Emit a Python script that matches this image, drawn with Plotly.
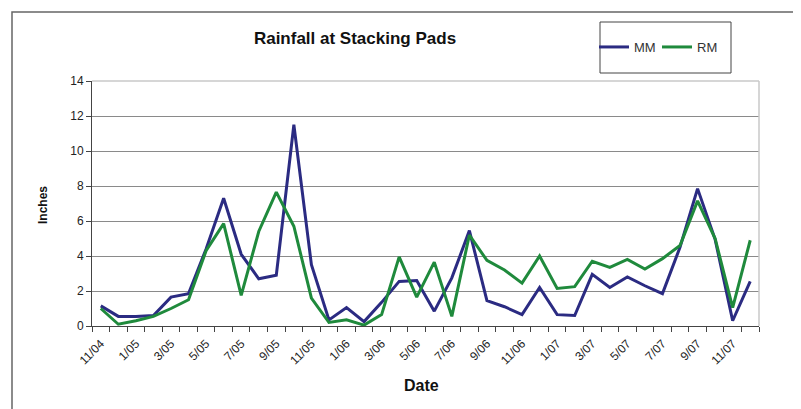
import plotly.graph_objects as go

months = ["11/04", "12/04",
          "1/05", "2/05", "3/05", "4/05", "5/05", "6/05", "7/05", "8/05", "9/05", "10/05", "11/05", "12/05",
          "1/06", "2/06", "3/06", "4/06", "5/06", "6/06", "7/06", "8/06", "9/06", "10/06", "11/06", "12/06",
          "1/07", "2/07", "3/07", "4/07", "5/07", "6/07", "7/07", "8/07", "9/07", "10/07", "11/07", "12/07"]

mm = [1.15, 0.55, 0.55, 0.6, 1.65, 1.85, 4.4, 7.3, 4.1, 2.7, 2.9, 11.5, 3.5, 0.35,
      1.05, 0.25, 1.35, 2.55, 2.6, 0.85, 2.75, 5.45, 1.45, 1.1, 0.65, 2.2,
      0.65, 0.6, 2.95, 2.2, 2.8, 2.3, 1.85, 4.5, 7.85, 4.95, 0.3, 2.55]

rm = [1.0, 0.1, 0.3, 0.55, 1.0, 1.5, 4.3, 5.85, 1.75, 5.4, 7.65, 5.7, 1.6, 0.2,
      0.35, 0.05, 0.65, 3.95, 1.65, 3.65, 0.55, 5.2, 3.75, 3.2, 2.45, 4.0,
      2.15, 2.25, 3.7, 3.35, 3.8, 3.25, 3.85, 4.6, 7.15, 5.0, 1.05, 4.9]

tick_labels = months[::2]
y_ticks = [0, 2, 4, 6, 8, 10, 12, 14]

idx = list(range(len(months)))

fig = go.Figure()
fig.add_trace(go.Scatter(x=idx, y=mm, mode="lines", name="MM",
                         line=dict(color="#2b2b82", width=3)))
fig.add_trace(go.Scatter(x=idx, y=rm, mode="lines", name="RM",
                         line=dict(color="#1f8a3c", width=3)))

OFF = 8  # page body margin offset
W, H = 801 - OFF, 409 - OFF
L, R, T, B = 92, 759, 81, 326
pw, ph = R - L, B - T

def px_x(p):
    return (p - L) / pw

def px_y(p):
    return (B - p) / ph

font_family = "Liberation Sans, Arial, sans-serif"

fig.update_layout(
    width=W, height=H,
    margin=dict(l=L - OFF, r=801 - R, t=T - OFF, b=409 - B, pad=0),
    paper_bgcolor="white", plot_bgcolor="white",
    font=dict(family=font_family, size=11, color="#222"),
    title=dict(text="<b>Rainfall at Stacking Pads</b>", x=px_x(355), xref="paper",
               xanchor="center", y=1 - (38 - OFF) / H, yref="container", yanchor="middle",
               font=dict(size=17, color="#111", family=font_family)),
    showlegend=True,
    legend=dict(orientation="h", x=px_x(594), y=px_y(47), xanchor="left", yanchor="middle",
                bgcolor="rgba(0,0,0,0)", borderwidth=0,
                font=dict(size=13, color="#333", family=font_family),
                itemwidth=30, entrywidth=18, tracegroupgap=0),
    xaxis=dict(range=[-0.5, len(months) - 0.5], tickmode="array",
               tickvals=idx[::2], ticktext=tick_labels, tickangle=-45,
               ticks="", showgrid=False, zeroline=False,
               showline=True, linecolor="#444", linewidth=1,
               ticklabelstandoff=5,
               tickfont=dict(size=12, color="#222"),
               minor=dict(tick0=-0.5, dtick=1, ticks="outside", ticklen=5,
                          tickcolor="#444", showgrid=False)),
    yaxis=dict(range=[0, 14], tickmode="array", tickvals=y_ticks,
               ticks="outside", ticklen=5, tickcolor="#444",
               showgrid=True, gridcolor="#8a8a8a", gridwidth=1,
               zeroline=False, showline=True, linecolor="#444", linewidth=1,
               tickfont=dict(size=12, color="#222")),
    annotations=[
        dict(text="<b>Inches</b>", x=px_x(43), y=px_y(205), xref="paper", yref="paper",
             textangle=-90, showarrow=False, xanchor="center", yanchor="middle",
             font=dict(size=12, color="#111", family=font_family)),
        dict(text="<b>Date</b>", x=px_x(421), y=px_y(385), xref="paper", yref="paper",
             showarrow=False, xanchor="center", yanchor="middle",
             font=dict(size=16, color="#111", family=font_family)),
    ],
    shapes=[
        # outer chart frame
        dict(type="rect", xref="paper", yref="paper",
             x0=px_x(12), x1=px_x(798), y0=px_y(430), y1=px_y(12),
             line=dict(color="#666", width=1.5), layer="below"),
        # legend box
        dict(type="rect", xref="paper", yref="paper",
             x0=px_x(600), x1=px_x(731), y0=px_y(73), y1=px_y(22),
             line=dict(color="#444", width=1), fillcolor="white", layer="below"),
        # light plot-area border top and right
        dict(type="line", xref="paper", yref="paper", x0=0, x1=1, y0=1, y1=1,
             line=dict(color="#c8c8c8", width=1.5), layer="above"),
        dict(type="line", xref="paper", yref="paper", x0=1, x1=1, y0=0, y1=1,
             line=dict(color="#c8c8c8", width=1.5), layer="above"),
    ],
)

fig.write_html("out.html")
